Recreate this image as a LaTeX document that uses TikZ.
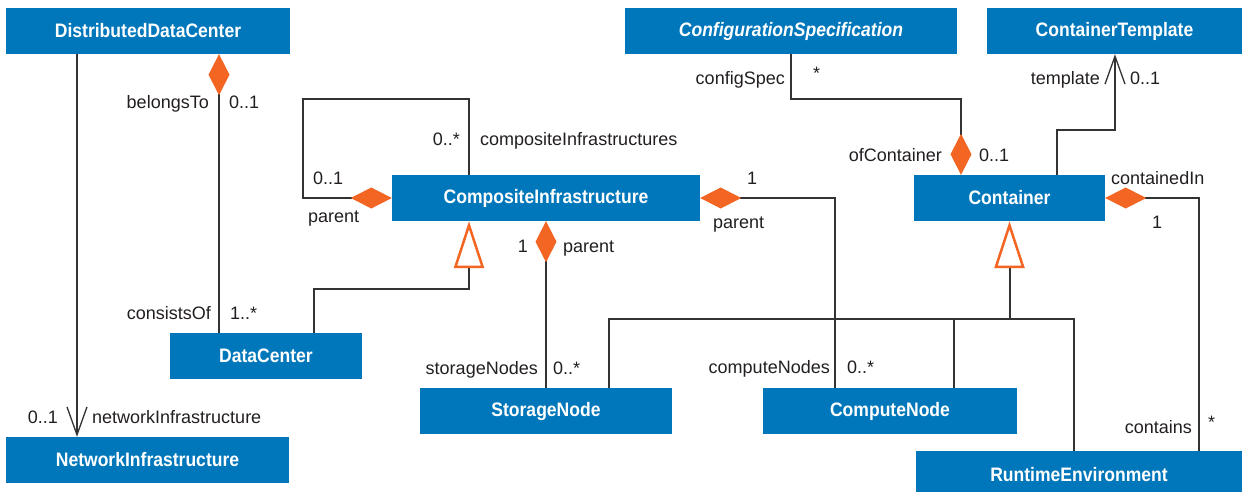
\documentclass[tikz,border=0pt]{standalone}
\usepackage{fontspec}
\setmainfont{Liberation Sans}
\newfontfamily\boxfont[FakeStretch=0.9]{Liberation Sans}
\usetikzlibrary{arrows.meta}
\definecolor{boxblue}{HTML}{0077BA}
\definecolor{umlorange}{HTML}{F26522}
\definecolor{ink}{HTML}{231F20}
\definecolor{wire}{HTML}{333333}
\tikzset{
  compT/.tip={Diamond[color=umlorange, length=41pt, width=21pt]},
  genT/.tip={Triangle[open, color=umlorange, length=47pt, width=30pt, line width=2.5pt]},
  navT/.tip={Straight Barb[color=wire, length=28pt, width=20pt, line width=1.3pt]},
  cls/.style={fill=boxblue, text=white, font=\boxfont\fontsize{19.5}{22}\selectfont\bfseries,
    minimum height=46pt, inner sep=0pt, anchor=center},
  lbl/.style={text=ink, font=\fontsize{18}{20}\selectfont, inner sep=0pt},
  conn/.style={draw=wire, line width=1.3pt}
}
\begin{document}
\begin{tikzpicture}[x=1pt,y=-1pt]
\useasboundingbox (0,0) rectangle (1242,492);
\clip (0,0) rectangle (1242,492);
\fill[white] (0,0) rectangle (1242,492);

% classes
\node[cls, minimum width=284pt] (DDC) at (148,31) {DistributedDataCenter};
\node[cls, minimum width=283pt] (NI) at (147.5,460) {NetworkInfrastructure};
\node[cls, minimum width=192pt] (DC) at (266,356) {DataCenter};
\node[cls, minimum width=308pt] (CI) at (546,198) {CompositeInfrastructure};
\node[cls, minimum width=252pt] (SN) at (546,411) {StorageNode};
\node[cls, minimum width=332pt] (CS) at (791,31) {\itshape ConfigurationSpecification};
\node[cls, minimum width=255pt] (CT) at (1114.5,31) {ContainerTemplate};
\node[cls, minimum width=191pt] (CO) at (1009.5,198) {Container};
\node[cls, minimum width=254pt] (CN) at (890,411) {ComputeNode};
\node[cls, minimum width=326pt, minimum height=48pt] (RE) at (1079,475) {RuntimeEnvironment};

% connectors
\draw[conn, -navT] ([xshift=-71pt]DDC.south) -- ([xshift=-70.5pt]NI.north);
\draw[conn, compT-] ([xshift=71pt]DDC.south) -- ([xshift=-47pt]DC.north);
\draw[conn, compT-] (CI.west) -- (303,198) -- (303,99) -- (469,99) -- ([xshift=-77pt]CI.north);
\draw[conn, -genT] ([xshift=48pt]DC.north) -- (314,289) -- (469,289) -- ([xshift=-77pt]CI.south);
\draw[conn, compT-] (CI.south) -- (SN.north);
\draw[conn, compT-] (CI.east) -- (835,198) -- ([xshift=-55pt]CN.north);
\draw[conn, -compT] (CS.south) -- (791,99) -- (961,99) -- ([xshift=-48.5pt]CO.north);
\draw[conn, -navT] ([xshift=47.5pt]CO.north) -- (1057,130) -- (1115,130) -- ([xshift=0.5pt]CT.south);
\draw[conn, compT-] (CO.east) -- (1199,198) -- ([xshift=120pt]RE.north);
\coordinate (GJ) at (1009.5,319);
\draw[conn, line width=2pt, -genT] (GJ) -- (CO.south);
\draw[conn] ([xshift=63pt]SN.north) |- (GJ);
\draw[conn] ([xshift=64pt]CN.north) |- (GJ);
\draw[conn] ([xshift=-5pt]RE.north) |- (GJ);

% labels
\node[lbl, anchor=base east] (t1) at (209,109) {belongsTo};
\node[lbl, anchor=base west] (t2) at (229,109) {0..1};
\node[lbl, anchor=base east] (t3) at (211,319) {consistsOf};
\node[lbl, anchor=base west] (t4) at (230,319) {1..*};
\node[lbl, anchor=base east] (t5) at (58,423) {0..1};
\node[lbl, anchor=base west] (t6) at (92,423) {networkInfrastructure};
\node[lbl, anchor=base east] (t7) at (460,146) {0..*};
\node[lbl, anchor=base west] (t8) at (480,146) {compositeInfrastructures};
\node[lbl, anchor=base west] (t9) at (313,184) {0..1};
\node[lbl, anchor=base west] (t10) at (308,222) {parent};
\node[lbl, anchor=base east] (t11) at (528,252) {1};
\node[lbl, anchor=base west] (t12) at (563,252) {parent};
\node[lbl, anchor=base east] (t13) at (538,374) {storageNodes};
\node[lbl, anchor=base west] (t14) at (553,374) {0..*};
\node[lbl, anchor=base west] (t15) at (747,184) {1};
\node[lbl, anchor=base west] (t16) at (713,228) {parent};
\node[lbl, anchor=base east] (t17) at (830,373) {computeNodes};
\node[lbl, anchor=base west] (t18) at (847,373) {0..*};
\node[lbl, anchor=base east] (t19) at (785,85) {configSpec};
\node[lbl, anchor=base west] (t20) at (813,80) {*};
\node[lbl, anchor=base east] (t21) at (942,161) {ofContainer};
\node[lbl, anchor=base west] (t22) at (979,161) {0..1};
\node[lbl, anchor=base east] (t23) at (1100,85) {template};
\node[lbl, anchor=base west] (t24) at (1130,85) {0..1};
\node[lbl, anchor=base west] (t25) at (1111,184) {containedIn};
\node[lbl, anchor=base west] (t26) at (1152,228) {1};
\node[lbl, anchor=base east] (t27) at (1192,433) {contains};
\node[lbl, anchor=base west] (t28) at (1208,428) {*};
\end{tikzpicture}
\end{document}
